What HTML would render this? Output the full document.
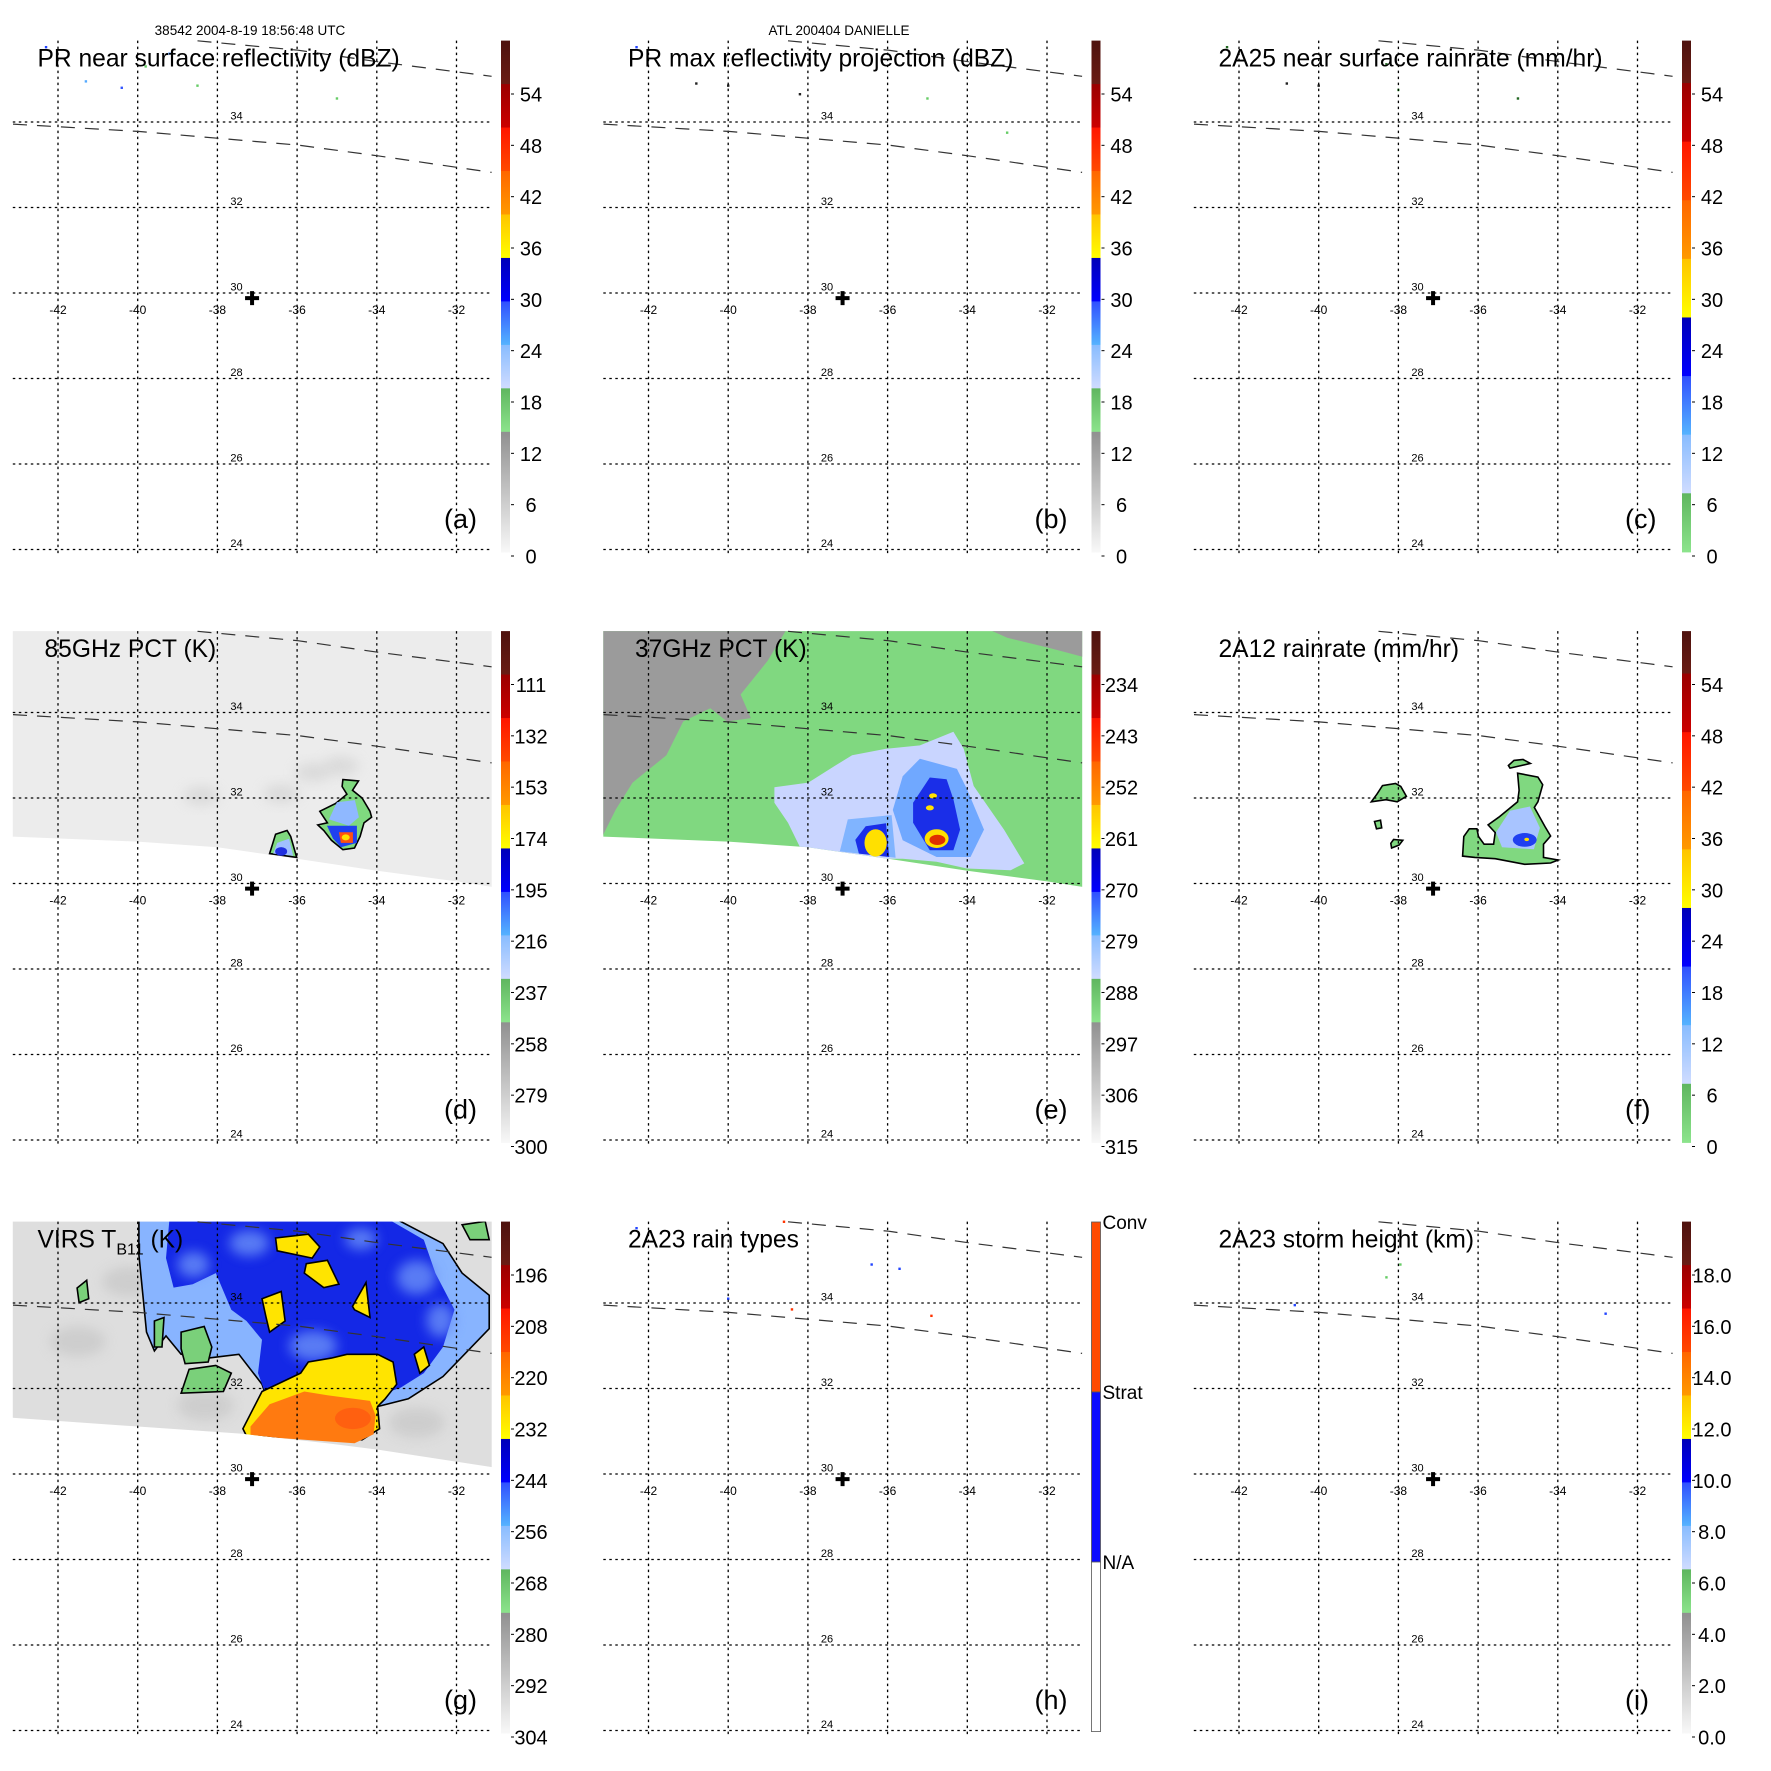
<!DOCTYPE html>
<html>
<head>
<meta charset="utf-8">
<style>
html,body{margin:0;padding:0;background:#fff;}
svg{display:block;font-family:"Liberation Sans",sans-serif;}
</style>
</head>
<body>
<svg id="fig" width="1771" height="1771" viewBox="0 0 1771 1771" xmlns="http://www.w3.org/2000/svg">
<rect width="1771" height="1771" fill="#fff"/>
<defs id="defs"></defs>
</svg>
<script>
const NS='http://www.w3.org/2000/svg';
// ---- data arrays ----
const panelIds=['a','b','c','d','e','f','g','h','i'];
const panelTitles=['PR near surface reflectivity (dBZ)','PR max reflectivity projection (dBZ)','2A25 near surface rainrate (mm/hr)','85GHz PCT (K)','37GHz PCT (K)','2A12 rainrate (mm/hr)','VIRS T','2A23 rain types','2A23 storm height (km)'];
const lonTicks=[-42,-40,-38,-36,-34,-32];
const latTicks=[24,26,28,30,32,34];
const cbarLabelsDbz=['54','48','42','36','30','24','18','12','6','0'];
const cbarLabelsRain=['54','48','42','36','30','24','18','12','6','0'];
const cbarLabels85=['111','132','153','174','195','216','237','258','279','300'];
const cbarLabels37=['234','243','252','261','270','279','288','297','306','315'];
const cbarLabelsVirs=['196','208','220','232','244','256','268','280','292','304'];
const cbarLabelsHeight=['18.0','16.0','14.0','12.0','10.0','8.0','6.0','4.0','2.0','0.0'];
const rainTypeLabels=['Conv','Strat','N/A'];
const stormCenter=[-37.13,29.88];
const swathLine1=[[-38.5,35.9],[-35.98,35.68],[-33.98,35.41],[-31.12,35.07]];
const swathLine2=[[-43.13,33.95],[-39.99,33.78],[-35.98,33.46],[-33.98,33.21],[-31.12,32.82]];
const pmwSwathBottom=[[-31.1,29.92],[-32,30.05],[-34,30.3],[-36,30.58],[-38,30.85],[-40,30.98],[-43.2,31.1]];
const virsSwathBottom=[[-31.1,30.16],[-33.98,30.57],[-35.25,30.72],[-37.37,30.94],[-43.2,31.32]];
// 85 GHz
const d85Main=[[-34.85,32.43],[-34.46,32.40],[-34.61,32.18],[-34.37,32.0],[-34.17,31.69],[-34.13,31.55],[-34.32,31.42],[-34.42,31.10],[-34.56,30.83],[-34.85,30.79],[-35.14,31.01],[-35.33,31.24],[-35.48,31.37],[-35.24,31.42],[-35.43,31.69],[-35.04,31.87],[-34.75,32.09],[-34.87,32.27]];
const d85Small=[[-36.69,30.70],[-36.54,31.15],[-36.25,31.24],[-36.16,31.10],[-36.01,30.61]];
const d85LightBlue=[[-35.0,31.9],[-34.55,31.95],[-34.45,31.55],[-34.7,31.35],[-35.2,31.5]];
const d85Blue=[[-35.25,31.35],[-34.5,31.35],[-34.5,30.95],[-34.9,30.85],[-35.1,31.05]];
const d85Core=[[-34.95,31.2],[-34.6,31.2],[-34.6,30.95],[-34.9,30.95]];
const d85SmallBlue=[[-36.5,30.95],[-36.2,31.05],[-36.1,30.65],[-36.6,30.7]];
const d85Smudges=[[-34.9,32.75],[-38.4,32.05],[-36.4,32.1],[-35.6,32.6]];
// 37 GHz
const e37GrayLeft=[[-43.16,36],[-38.5,36],[-39.01,35.21],[-39.69,34.42],[-39.43,33.87],[-40.03,33.79],[-40.45,34.10],[-41.13,33.79],[-41.55,33.0],[-42.40,32.36],[-42.82,31.73],[-43.16,31.10]];
const e37GrayRight=[[-33.6,36],[-31.1,36],[-31.1,35.3],[-31.9,35.5],[-33.0,35.75]];
const e37LightBlue=[[-38.84,32.25],[-37.99,32.36],[-37.31,32.76],[-36.89,33.0],[-36.04,33.15],[-35.19,33.23],[-34.35,33.55],[-34.09,33.15],[-33.84,32.28],[-33.08,31.26],[-32.57,30.47],[-32.91,30.31],[-34.01,30.35],[-34.77,30.51],[-35.62,30.58],[-36.21,30.58],[-38.16,30.78],[-38.5,31.42],[-38.84,31.89]];
const e37MidBlue=[[-35.19,32.92],[-34.26,32.68],[-34.01,32.21],[-33.58,31.26],[-33.92,30.62],[-34.77,30.62],[-35.62,31.01],[-35.87,31.72],[-35.62,32.51]];
const e37MidBlue2=[[-37.0,31.5],[-35.9,31.6],[-35.8,30.6],[-37.2,30.75]];
const e37DarkBlue1=[[-34.94,32.48],[-34.52,32.44],[-34.35,31.97],[-34.18,31.26],[-34.35,30.78],[-34.94,30.78],[-35.36,31.42],[-35.36,31.89]];
const e37DarkBlue2=[[-36.55,31.34],[-36.04,31.41],[-35.96,30.62],[-36.72,30.70],[-36.81,31.02]];
const e37Yellow=[[-36.3,30.95,0.28,0.32],[-34.86,32.05,0.1,0.06],[-34.94,31.77,0.1,0.06],[-34.77,31.05,0.3,0.22]];
const e37Red=[[-34.75,31.02,0.2,0.12]];
// 2A12
const f12Main=[[-35.01,32.58],[-34.50,32.49],[-34.38,32.31],[-34.50,31.91],[-34.59,31.78],[-34.32,31.33],[-34.18,31.11],[-34.36,30.92],[-34.36,30.61],[-33.99,30.55],[-34.18,30.48],[-34.83,30.45],[-35.57,30.58],[-36.08,30.61],[-36.39,30.64],[-36.36,31.10],[-36.22,31.28],[-36.03,31.28],[-35.99,31.10],[-35.85,30.92],[-35.61,30.92],[-35.57,31.19],[-35.75,31.37],[-35.48,31.55],[-35.01,31.91],[-34.97,32.18]];
const f12Top=[[-35.24,32.76],[-35.10,32.88],[-34.87,32.90],[-34.69,32.81],[-35.01,32.74],[-35.20,32.70]];
const f12Left=[[-38.54,32.09],[-38.40,32.29],[-38.07,32.34],[-37.94,32.27],[-37.80,32.04],[-38.03,31.91],[-38.31,31.96],[-38.68,31.91]];
const f12Small1=[[-38.19,30.94],[-38.12,31.03],[-37.89,31.01],[-37.98,30.90],[-38.17,30.83]];
const f12Small2=[[-38.6,31.45],[-38.45,31.48],[-38.42,31.3],[-38.55,31.28]];
const f12LightBlue=[[-35.2,31.7],[-34.7,31.8],[-34.45,31.3],[-34.6,30.8],[-35.4,30.85],[-35.55,31.2]];
const f12Blue=[[-34.83,31.02,0.3,0.16]];
// VIRS
const gLightBlue=[[-39.97,36],[-33.59,36],[-32.34,35.39],[-31.86,34.70],[-31.18,34.18],[-31.18,33.40],[-32.34,32.28],[-33.21,31.76],[-33.98,31.58],[-36.69,31.58],[-36.88,32.10],[-37.46,32.80],[-38.23,32.71],[-38.91,32.80],[-39.29,33.23],[-39.58,32.88],[-39.78,33.32],[-39.87,34.18],[-39.97,35.13]];
const gDarkBlue=[[-39.20,36],[-33.79,36],[-32.82,35.48],[-32.53,34.70],[-32.05,33.84],[-32.34,32.97],[-32.82,32.36],[-33.40,32.02],[-34.17,31.76],[-34.95,31.84],[-36.11,31.84],[-36.78,31.84],[-36.98,32.36],[-36.88,33.14],[-37.27,33.58],[-37.65,33.84],[-38.04,34.70],[-38.62,34.44],[-39.10,34.36],[-39.29,35.05]];
const gLightPatches=[[-35.6,33.0,0.6,0.35],[-33.0,34.6,0.5,0.4],[-37.2,35.4,0.5,0.3],[-32.4,33.6,0.35,0.4],[-38.6,34.9,0.4,0.3],[-34.4,35.5,0.4,0.25]];
const gYellowBase=[[-37.36,31.06],[-36.88,31.93],[-35.91,32.36],[-35.72,32.62],[-35.14,32.71],[-34.75,32.80],[-33.98,32.80],[-33.59,32.62],[-33.50,32.10],[-33.79,31.76],[-33.98,31.58],[-33.93,31.06],[-34.37,30.80],[-37.27,30.89]];
const gOrange=[[-37.17,31.11],[-36.69,31.63],[-35.82,31.93],[-35.24,31.84],[-34.17,31.71],[-34.03,31.37],[-34.08,30.93],[-34.56,30.72],[-37.17,30.89]];
const gYellow1=[[-36.54,35.52],[-35.72,35.61],[-35.43,35.31],[-35.62,35.05],[-36.50,35.22]];
const gYellow2=[[-35.77,34.92],[-35.24,35.0],[-34.95,34.44],[-35.33,34.36],[-35.82,34.70]];
const gYellow3=[[-34.61,33.92],[-34.27,34.48],[-34.17,33.66],[-34.56,33.84]];
const gYellow4=[[-36.88,34.10],[-36.40,34.27],[-36.30,33.58],[-36.69,33.32],[-36.78,33.67]];
const gYellow5=[[-33.06,32.80],[-32.82,32.97],[-32.68,32.54],[-32.92,32.36]];
const gGreen1=[[-38.91,33.32],[-38.33,33.45],[-38.14,32.97],[-38.23,32.62],[-38.81,32.58],[-38.91,32.93]];
const gGreen2=[[-38.71,32.45],[-38.04,32.54],[-37.65,32.36],[-37.85,31.93],[-38.91,31.89]];
const gGreen3=[[-41.52,34.35],[-41.28,34.53],[-41.23,34.10],[-41.47,34.01]];
const gGreen4=[[-39.58,33.58],[-39.34,33.66],[-39.39,32.97],[-39.58,32.97]];
const gGreen5=[[-31.86,35.83],[-31.28,35.91],[-31.18,35.48],[-31.66,35.48]];
const gSmudges=[[-38.3,31.6],[-41.5,33.1],[-40.2,34.5],[-33.0,31.2]];
// specks
const specksA=[[-42.3,35.75,'#2244ff'],[-41.3,34.95,'#55aaff'],[-40.4,34.8,'#3355ff'],[-39.2,35.6,'#5599ff'],[-38.5,34.85,'#66cc66'],[-35.0,34.55,'#66cc66'],[-39.8,35.3,'#66cc66']];
const specksB=[[-42.3,35.75,'#2244ff'],[-40.8,34.9,'#222'],[-40.0,34.85,'#222'],[-38.3,35.35,'#222'],[-38.2,34.65,'#222'],[-35.0,34.55,'#66cc66'],[-33.0,33.75,'#66cc66']];
const specksC=[[-42.3,35.75,'#226622'],[-40.8,34.9,'#222'],[-40.0,34.85,'#222'],[-38.3,35.35,'#226622'],[-38.0,34.75,'#66cc66'],[-35.0,34.55,'#226622']];
const specksH=[[-42.3,35.75,'#2244ff'],[-40.0,34.1,'#2244ff'],[-38.4,33.85,'#ff3300'],[-36.4,34.9,'#2244ff'],[-35.7,34.8,'#2244ff'],[-34.9,33.7,'#ff3300'],[-38.6,35.9,'#ff3300']];
const specksI=[[-40.6,33.95,'#2244ff'],[-37.95,34.9,'#66cc66'],[-38.3,34.6,'#66cc66'],[-32.8,33.75,'#2244ff'],[-42.0,34.9,'#cccccc']];

// ---- layout ----
const svg=document.getElementById('fig');
const defs=document.getElementById('defs');
const STEP=590.5;
function OX(p){return (p%3)*STEP;}
function OY(p){return Math.floor(p/3)*STEP;}
function X(p,lon){return OX(p)+58+(lon+42)*39.85;}
function Y(p,lat){return OY(p)+293-(lat-30)*42.75;}
function mk(tag,attrs,parent){const e=document.createElementNS(NS,tag);for(const k in attrs)e.setAttribute(k,attrs[k]);(parent||svg).appendChild(e);return e;}
function ptsStr(p,arr){return arr.map(a=>X(p,a[0]).toFixed(1)+','+Y(p,a[1]).toFixed(1)).join(' ');}
function poly(p,arr,fill,parent,stroke){const e=mk('polygon',{points:ptsStr(p,arr),fill:fill,stroke:stroke||'none','stroke-width':stroke?1.6:0},parent);return e;}

const bandColors=[['#4e120e','#6a1c14'],['#9a0000','#cc0000'],['#ff1500','#ff4a00'],['#ff6600','#ff9a00'],['#ffc400','#ffff00'],['#0000b8','#0000ff'],['#3050ff','#55b4ff'],['#88bcff','#d0dcff'],['#5fb65f','#8ce48c'],['#909090','#f8f8f8']];
bandColors.forEach((c,i)=>{const g=mk('linearGradient',{id:'bg'+i,x1:0,y1:0,x2:0,y2:1},defs);mk('stop',{offset:0,'stop-color':c[0]},g);mk('stop',{offset:1,'stop-color':c[1]},g);});
const blurF=mk('filter',{id:'blur',x:'-50%',y:'-50%',width:'200%',height:'200%'},defs);
mk('feGaussianBlur',{stdDeviation:6},blurF);

function colorbar(p,labels,scheme){
  const g=mk('g',{});
  
  
  const x0=OX(p)+501,w=9,top=OY(p)+40.6,bot=OY(p)+552,H=bot-top;
  let fr;
  if(scheme==='rain') fr=[0.083,0.1146,0.1146,0.1146,0.1146,0.1146,0.1146,0.1146,0.1146];
  else fr=[0.085,0.085,0.085,0.085,0.085,0.085,0.085,0.085,0.085,0.235];
  let y=top;
  fr.forEach((f,i)=>{mk('rect',{x:x0,y:y,width:w,height:H*f+0.5,fill:'url(#bg'+i+')'},g);y+=H*f;});
  labels.forEach((t,i)=>{
    const cy=OY(p)+94+i*(556-94)/9;
    mk('line',{x1:x0+w+1,x2:x0+w+4,y1:cy,y2:cy,stroke:'#000','stroke-width':1},g);
    const tx=mk('text',{x:OX(p)+531,y:cy+7.5,'font-size':20,'text-anchor':'middle',fill:'#000'},g);
    tx.textContent=t;
    
    
  });
}

function clipFor(p,swath){
  const cp=mk('clipPath',{id:'clip'+p},defs);
  if(swath){
    const arr=[[-43.2,36.2],[-31.0,36.2]].concat(swath);
    mk('polygon',{points:ptsStr(p,arr)},cp);
  } else {
    mk('rect',{x:OX(p)+12.8,y:OY(p)+40.6,width:478.9,height:514},cp);
  }
  const cp2=mk('clipPath',{id:'rc'+p},defs);
  mk('rect',{x:OX(p)+12.8,y:OY(p)+40.6,width:478.9,height:514},cp2);
}

function dataLayer(p){
  const outer=mk('g',{'clip-path':'url(#rc'+p+')'});
  const g=mk('g',{'clip-path':'url(#clip'+p+')'},outer);
  
  
  return g;
}
function ell(p,c,rx,ry,fill,parent,op,blur){const e=mk('ellipse',{cx:X(p,c[0]),cy:Y(p,c[1]),rx:rx*39.85,ry:ry*42.75,fill:fill,opacity:op||1},parent);if(blur)e.setAttribute('filter','url(#blur)');return e;}
function specks(p,arr){
  const g=mk('g',{});
  
  
  arr.forEach(s=>{mk('rect',{x:X(p,s[0])-1.2,y:Y(p,s[1])-1.2,width:2.4,height:2.4,fill:s[2]},g);});
}

for(let p=0;p<9;p++){
  const id=panelIds[p];
  if(p===3||p===4) clipFor(p,pmwSwathBottom);
  else if(p===6) clipFor(p,virsSwathBottom);
  else clipFor(p,null);

  if(p===3){
    const g=dataLayer(p);
    mk('rect',{x:OX(p),y:OY(p),width:590,height:590,fill:'#ececec'},g);
    d85Smudges.forEach(c=>ell(p,c,0.45,0.22,'#cfcfcf',g,0.6,true));
    poly(p,d85Main,'#7fd97f',g,'#000');
    poly(p,d85Small,'#7fd97f',g,'#000');
    poly(p,d85LightBlue,'#8fb8ff',g);
    poly(p,d85Blue,'#2040f0',g);
    poly(p,d85Core,'#ff5010',g);
    ell(p,[-34.78,31.08],0.1,0.07,'#ffe000',g);
    poly(p,d85SmallBlue,'#a0c0ff',g);
    ell(p,[-36.4,30.75],0.15,0.1,'#2030e0',g);
  }
  if(p===4){
    const g=dataLayer(p);
    mk('rect',{x:OX(p),y:OY(p),width:590,height:590,fill:'#80d880'},g);
    poly(p,e37GrayLeft,'#9b9b9b',g);
    poly(p,e37GrayRight,'#9b9b9b',g);
    poly(p,e37LightBlue,'#c9d5ff',g);
    poly(p,e37MidBlue,'#70a8ff',g);
    poly(p,e37MidBlue2,'#80b4ff',g);
    poly(p,e37DarkBlue1,'#1a2ee8',g);
    poly(p,e37DarkBlue2,'#1a2ee8',g);
    e37Yellow.forEach(s=>ell(p,[s[0],s[1]],s[2],s[3],'#ffe000',g));
    e37Red.forEach(s=>ell(p,[s[0],s[1]],s[2],s[3],'#e03000',g));
  }
  if(p===5){
    const g=dataLayer(p);
    [f12Main,f12Top,f12Left,f12Small1,f12Small2].forEach(a=>poly(p,a,'#80d880',g,'#000'));
    poly(p,f12LightBlue,'#a8c4ff',g);
    f12Blue.forEach(s=>ell(p,[s[0],s[1]],s[2],s[3],'#2040f0',g));
    ell(p,[-34.78,31.03],0.06,0.04,'#ffe000',g);
  }
  if(p===6){
    const g=dataLayer(p);
    mk('rect',{x:OX(p),y:OY(p),width:590,height:590,fill:'#dedede'},g);
    gSmudges.forEach(c=>ell(p,c,0.7,0.35,'#bdbdbd',g,0.5,true));
    poly(p,gLightBlue,'#88b4ff',g,'#000');
    poly(p,gDarkBlue,'#1428e6',g);
    gLightPatches.forEach(s=>ell(p,[s[0],s[1]],s[2],s[3],'#6a90f8',g,0.8,true));
    [gGreen1,gGreen2,gGreen3,gGreen4,gGreen5].forEach(a=>poly(p,a,'#7ad07a',g,'#000'));
    poly(p,gYellowBase,'#ffe400',g,'#000');
    poly(p,gOrange,'#ff7a10',g);
    ell(p,[-34.6,31.3],0.45,0.25,'#ff5a10',g,0.8);
    [gYellow1,gYellow2,gYellow3,gYellow4,gYellow5].forEach(a=>poly(p,a,'#ffe400',g,'#000'));
  }
  if(p===0) specks(p,specksA);
  if(p===1) specks(p,specksB);
  if(p===2) specks(p,specksC);
  if(p===7) specks(p,specksH);
  if(p===8) specks(p,specksI);

  const gg=mk('g',{stroke:'#000','stroke-width':1.3,'stroke-dasharray':'2.5,3.5',fill:'none'});
  
  
  latTicks.forEach(la=>{mk('line',{x1:OX(p)+12.8,x2:OX(p)+491.7,y1:Y(p,la),y2:Y(p,la)},gg);});
  lonTicks.forEach(lo=>{mk('line',{x1:X(p,lo),x2:X(p,lo),y1:OY(p)+40.6,y2:OY(p)+555},gg);});
  const sg=mk('g',{stroke:'#333','stroke-width':1.2,'stroke-dasharray':'14,10',fill:'none'});
  
  
  mk('polyline',{points:ptsStr(p,swathLine1)},sg);
  mk('polyline',{points:ptsStr(p,swathLine2)},sg);
  latTicks.forEach(la=>{const t=mk('text',{x:X(p,-38)+13,y:Y(p,la)-2.5,'font-size':11,fill:'#000'});t.textContent=String(la);
    
    });
  lonTicks.forEach(lo=>{const t=mk('text',{x:X(p,lo),y:Y(p,30)+21,'font-size':12,'text-anchor':'middle',fill:'#000'});t.textContent=String(lo);
    
    });
  const cx=X(p,stormCenter[0]),cy=Y(p,stormCenter[1]);
  const cr=mk('path',{d:`M${cx-7} ${cy-2}h5v-5h4v5h5v4h-5v5h-4v-5h-5z`,fill:'#000'});
  
  
  const tx=(p===3||p===4)?44.5:37.5;
  const tt=mk('text',{x:OX(p)+tx,y:OY(p)+66.6,'font-size':24.6,fill:'#000'});
  
  
  if(p===6){
    tt.textContent='VIRS T';
    const sub=mk('tspan',{'font-size':16,dy:7},tt);sub.textContent='B11';
    const rest=mk('tspan',{dy:-7},tt);rest.textContent=' (K)';
  } else tt.textContent=panelTitles[p];
  const lt=mk('text',{x:OX(p)+444,y:OY(p)+528,'font-size':27,fill:'#000'});
  lt.textContent='('+id+')';
  
  
  if(p===0||p===1) colorbar(p,cbarLabelsDbz,'std');
  if(p===2||p===5) colorbar(p,cbarLabelsRain,'rain');
  if(p===3) colorbar(p,cbarLabels85,'std');
  if(p===4) colorbar(p,cbarLabels37,'std');
  if(p===6) colorbar(p,cbarLabelsVirs,'std');
  if(p===8) colorbar(p,cbarLabelsHeight,'std');
  if(p===7){
    const g=mk('g',{});
    
    
    const x0=OX(p)+501,ys=[OY(p)+41,OY(p)+211,OY(p)+381,OY(p)+550.6];
    mk('rect',{x:x0,y:ys[0],width:9,height:ys[1]-ys[0],fill:'#ff4a00',stroke:'#555','stroke-width':0.8},g);
    mk('rect',{x:x0,y:ys[1],width:9,height:ys[2]-ys[1],fill:'#0a0aff',stroke:'#555','stroke-width':0.8},g);
    mk('rect',{x:x0,y:ys[2],width:9,height:ys[3]-ys[2],fill:'#fff',stroke:'#555','stroke-width':0.8},g);
    rainTypeLabels.forEach((t,i)=>{const e=mk('text',{x:x0+11,y:ys[i]+7,'font-size':19,fill:'#000'},g);e.textContent=t;
      
      });
  }
}
const h1=mk('text',{x:250,y:34.8,'font-size':13.5,'text-anchor':'middle',fill:'#000'});
h1.textContent='38542 2004-8-19 18:56:48 UTC';


const h2=mk('text',{x:839,y:34.8,'font-size':13.5,'text-anchor':'middle',fill:'#000'});
h2.textContent='ATL 200404 DANIELLE';


</script>
</body>
</html>
